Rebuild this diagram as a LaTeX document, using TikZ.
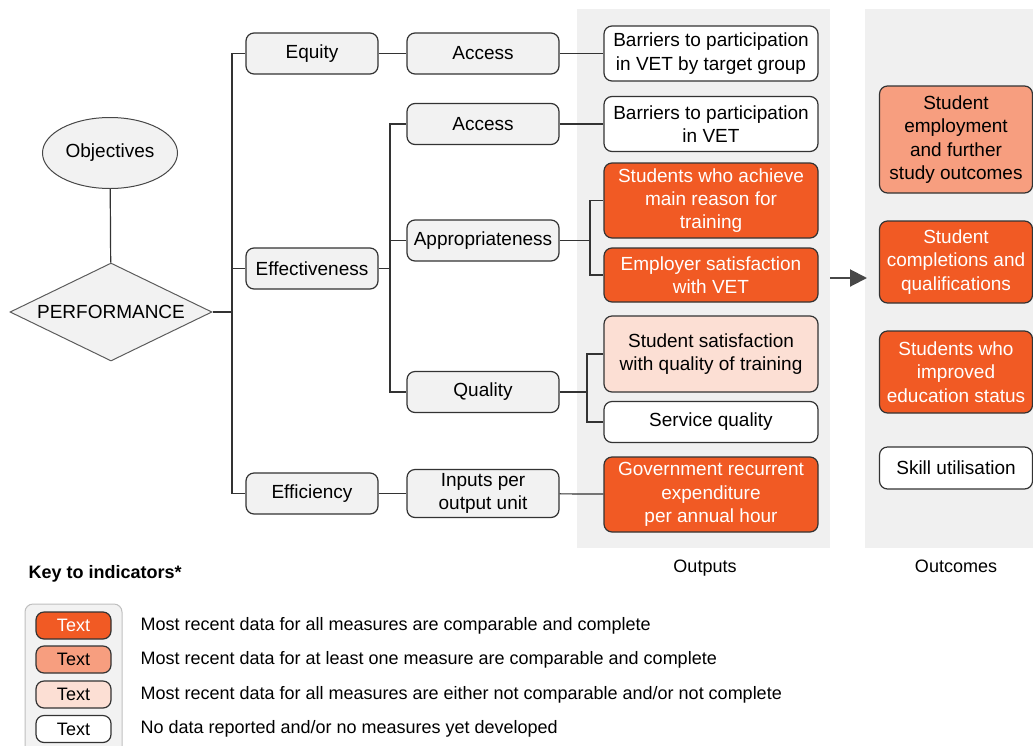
\documentclass[tikz,border=0pt]{standalone}
\usepackage{fontspec}
\setmainfont{Liberation Sans}
\usetikzlibrary{shapes.geometric, arrows.meta}
\definecolor{linecol}{HTML}{333333}
\definecolor{boxgrey}{HTML}{F2F2F2}
\definecolor{colbg}{HTML}{F0F0F0}
\definecolor{fullcol}{HTML}{F15A24}
\definecolor{onecol}{HTML}{F79E7F}
\definecolor{notcol}{HTML}{FCDFD4}
\tikzset{
    box/.style={
        rectangle, rounded corners=8pt, draw=linecol, line width=1.2pt,
        inner sep=0pt, align=center, minimum height=41pt
    },
    lvl/.style={
        box, fill=boxgrey, minimum width=132pt
    },
    sub/.style={
        box, fill=boxgrey, minimum width=152pt
    },
    outp/.style={
        box, minimum width=214pt
    },
    outc/.style={
        box, minimum width=153pt
    },
    allcomp/.style={
        fill=fullcol, text=white
    },
    onecomp/.style={
        fill=onecol, text=black
    },
    notcomp/.style={
        fill=notcol, text=black
    },
    nodata/.style={
        fill=white, text=black
    },
    conn/.style={
        draw=linecol, line width=1.2pt
    },
    arr/.style={
        draw=linecol!90, line width=2pt, -{Triangle[length=17pt, width=17pt]}
    },
    keybox/.style={
        box, minimum width=75pt, minimum height=27pt,
        font=\fontsize{18}{22}\selectfont
    },
    keytext/.style={
        anchor=west, font=\fontsize{18}{22}\selectfont
    }
}

\begin{document}
\begin{tikzpicture}[x=1pt, y=-1pt, font=\fontsize{19}{23.3}\selectfont]
        \useasboundingbox (0,0) rectangle (1033,745);

        % grey columns behind outputs and outcomes
        \fill[colbg] (577,9) rectangle (830,548);
        \fill[colbg] (865,9) rectangle (1033,548);

        \node[ellipse, draw=linecol!90, line width=1pt, fill=boxgrey,
              minimum width=135pt, minimum height=71pt] (objectives) at (110,153) {Objectives};
        \node[diamond, draw=linecol!80, line width=1pt, fill=boxgrey, inner sep=0pt, shape aspect=2.06,
              minimum width=202pt, minimum height=98pt] (performance) at (111,312) {PERFORMANCE};

        \node[lvl] (equity)        at (312,53.5)  {Equity};
        \node[lvl] (effectiveness) at (312,268.5) {Effectiveness};
        \node[lvl] (efficiency)    at (312,493.5) {Efficiency};

        \node[sub] (access1) at (483,53.5)  {Access};
        \node[sub] (access2) at (483,124) {Access};
        \node[sub] (approp)  at (483,240.5) {Appropriateness};
        \node[sub] (quality) at (483,392) {Quality};
        \node[sub, minimum height=48pt] (inputs) at (483,493.5) {Inputs per\\output unit};

        % outputs
        \node[outp, nodata, minimum height=55pt]  (barrierstg) at (711,53.5)  {Barriers to participation\\in VET by target group};
        \node[outp, nodata, minimum height=55pt]  (barriers)   at (711,124) {Barriers to participation\\in VET};
        \node[outp, allcomp, minimum height=75pt] (mainreason) at (711,200.5) {Students who achieve\\main reason for\\training};
        \node[outp, allcomp, minimum height=54pt] (employer)   at (711,275) {Employer satisfaction\\with VET};
        \node[outp, notcomp, minimum height=76pt] (studsat)    at (711,354) {Student satisfaction\\with quality of training};
        \node[outp, nodata]                       (service)    at (711,422) {Service quality};
        \node[outp, allcomp, minimum height=75pt] (govexp)     at (711,494.5) {Government recurrent\\expenditure\\per annual hour};

        % outcomes
        \node[outc, onecomp, minimum height=107pt] (employment)  at (956,139.5) {Student\\employment\\and further\\study outcomes};
        \node[outc, allcomp, minimum height=82pt]  (completions) at (956,262) {Student\\completions and\\qualifications};
        \node[outc, allcomp, minimum height=82pt]  (improved)    at (956,372) {Students who\\improved\\education status};
        \node[outc, nodata, minimum height=42pt]   (skill)       at (956,468) {Skill utilisation};

        \node[font=\fontsize{18}{22}\selectfont] (outputslbl)  at (705,568) {Outputs};
        \node[font=\fontsize{18}{22}\selectfont] (outcomeslbl) at (956,566) {Outcomes};

        \coordinate (perfbus) at (232,312);
        \coordinate (effbus)  at (390,268.5);
        \coordinate (appbus)  at (590,240.5);
        \coordinate (qualbus) at (587,392);
        \coordinate (arrstart) at (830,278);
        \coordinate (arrend)   at (867,278);

        \draw[conn] (objectives) -- (performance);
        \draw[conn] (performance.east) -- (perfbus) |- (equity.west);
        \draw[conn] (perfbus) |- (effectiveness.west);
        \draw[conn] (perfbus) |- (efficiency.west);
        \draw[conn] (equity) -- (access1);
        \draw[conn] (effectiveness.east) -- (effbus) |- (access2.west);
        \draw[conn] (effbus) |- (approp.west);
        \draw[conn] (effbus) |- (quality.west);
        \draw[conn] (efficiency) -- (inputs);
        \draw[conn] (access1) -- (barrierstg);
        \draw[conn] (access2) -- (barriers);
        \draw[conn] (approp.east) -- (appbus) |- (mainreason.west);
        \draw[conn] (appbus) |- (employer.west);
        \draw[conn] (quality.east) -- (qualbus) |- (studsat.west);
        \draw[conn] (qualbus) |- (service.west);
        \draw[conn] (inputs) -- (govexp);
        \draw[arr] (arrstart) -- (arrend);

        % key
        \node[anchor=west, font=\fontsize{18}{22}\selectfont\bfseries] (keytitle) at (25,574) {Key to indicators*};
        \draw[fill=boxgrey, draw=black!25, line width=1pt, rounded corners=8pt] (25,604) rectangle (122,770);

        \node[keybox, allcomp] (keyall)  at (73.5,625.5) {Text};
        \node[keybox, onecomp] (keyone)  at (73.5,659.5) {Text};
        \node[keybox, notcomp] (keynot)  at (73.5,694.5) {Text};
        \node[keybox, nodata]  (keynone) at (73.5,729) {Text};

        \node[keytext] (keyalltxt)  at (137,626) {Most recent data for all measures are comparable and complete};
        \node[keytext] (keyonetxt)  at (137,660) {Most recent data for at least one measure are comparable and complete};
        \node[keytext] (keynottxt)  at (137,694.5) {Most recent data for all measures are either not comparable and/or not complete};
        \node[keytext] (keynonetxt) at (137,729) {No data reported and/or no measures yet developed};
    \end{tikzpicture}
\end{document}
